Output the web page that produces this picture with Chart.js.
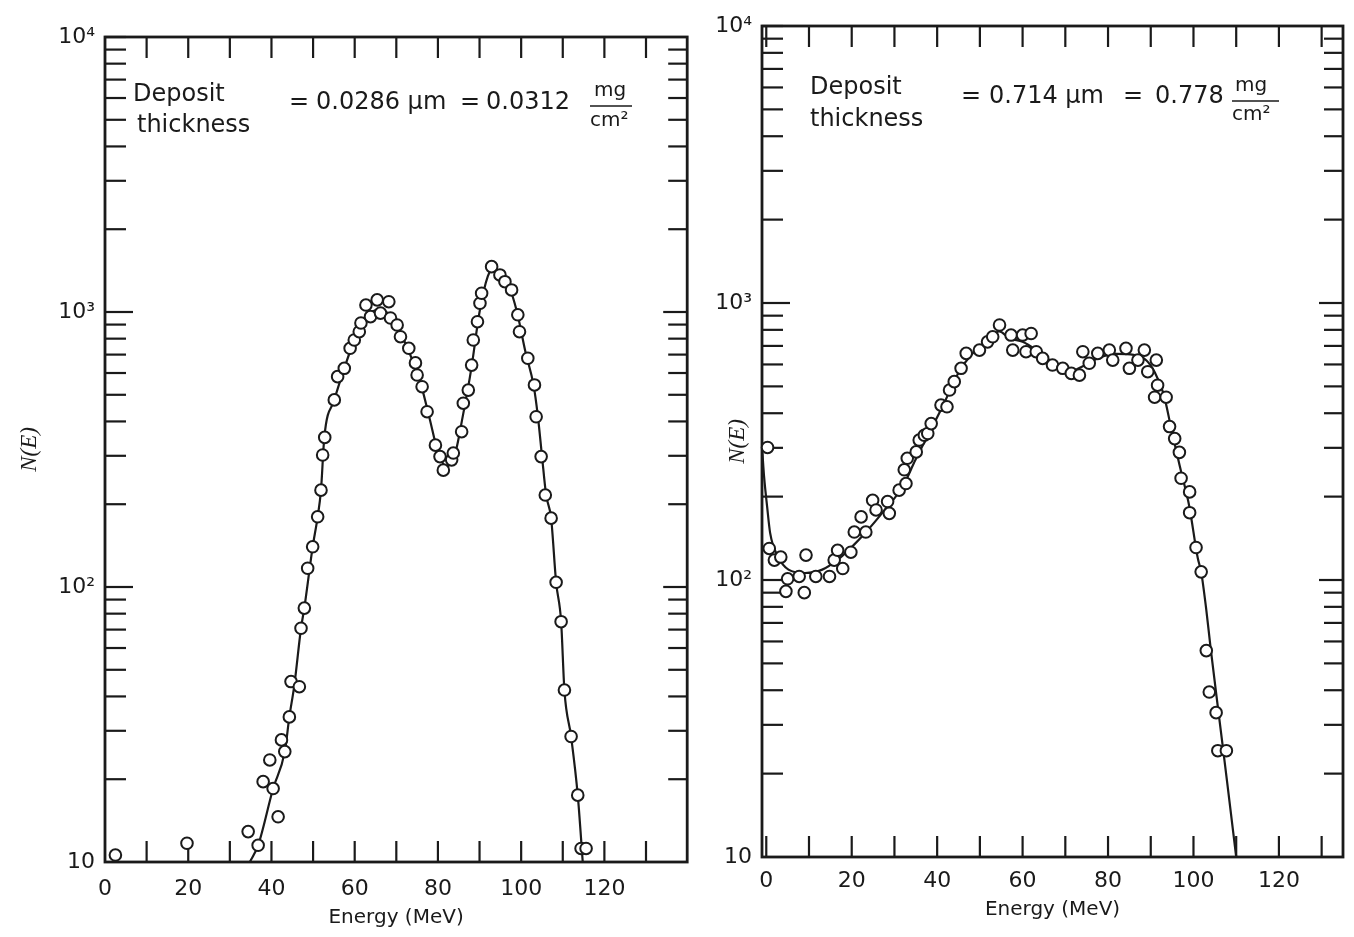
<!DOCTYPE html>
<html><head><meta charset="utf-8">
<script src="https://cdn.jsdelivr.net/npm/chart.js@4/dist/chart.umd.min.js"></script>
<style>
html,body{margin:0;padding:0;background:#fff;width:1354px;height:937px;overflow:hidden;}
canvas{position:absolute;top:0;}
#c1{left:0;}
#c2{left:695px;}
</style></head><body>
<canvas id="c1" width="695" height="937"></canvas>
<canvas id="c2" width="659" height="937"></canvas>
<script>
// ---------- data ----------
const leftE = [2.5,19.7,34.4,36.8,38.0,39.6,40.4,41.6,42.4,43.2,44.3,44.7,46.7,47.1,47.9,48.7,49.9,51.1,51.9,52.3,52.8,55.1,55.9,57.5,58.9,59.9,61.1,61.5,62.7,63.8,65.4,66.2,68.2,68.6,70.2,71.0,73.0,74.6,75.0,76.2,77.4,79.4,80.5,81.3,83.3,83.7,85.7,86.1,87.3,88.1,88.5,89.5,90.1,90.5,92.9,94.9,96.1,97.7,99.2,99.6,101.6,103.2,103.6,104.8,105.8,107.2,108.4,109.6,110.4,112.0,113.6,114.4,115.6];
const leftN = [10.6,11.7,12.9,11.5,19.6,23.5,18.5,14.6,27.8,25.2,33.7,45.3,43.4,70.8,83.8,117,140,180,225,302,350,479,582,624,738,791,848,912,1060,962,1107,991,1090,951,897,813,738,653,590,535,434,328,298,266,290,307,367,466,520,641,791,922,1076,1170,1462,1364,1289,1203,977,848,679,543,416,298,216,178,104,74.8,42.2,28.6,17.5,11.2,11.2];
const leftFitE = [34.8,36.8,40.4,43.2,44.3,45.5,47.1,47.9,49.9,51.1,51.9,52.7,55.1,57.5,59.9,62,64,66,68,70,72,74,76,78,80,82,84,86,88,90,92,93.5,95,97,99,101,103,104,105,106,107.2,108.4,109.6,110.4,112,113.6,114.8];
const leftFitN = [10,11.5,18.5,25.2,33.7,44,70.8,84,140,180,225,350,479,624,791,930,1000,1020,990,900,780,660,540,410,310,275,300,420,620,1000,1350,1440,1380,1250,1000,720,540,420,300,216,178,104,75,42,28.6,17.5,10];

const rightE = [0.3,0.7,1.9,3.4,4.6,5.0,7.7,8.9,9.3,11.6,14.8,15.9,16.7,17.9,19.8,20.6,22.2,23.3,24.9,25.7,28.4,28.8,31.1,32.3,32.7,33.0,35.1,35.8,37.0,37.8,38.6,40.9,42.3,42.9,44.0,45.6,46.8,49.9,51.8,53.0,54.6,57.3,57.7,60.0,60.8,62.0,63.2,64.7,67.0,69.4,71.4,73.3,74.1,75.6,77.6,80.3,81.1,84.2,85.0,87.0,88.5,89.3,90.9,91.3,91.6,93.6,94.4,95.6,96.7,97.1,99.1,99.1,100.6,101.8,103.0,103.7,105.3,105.7,107.7];
const rightN = [301,130,118,121,91,101,103,90,123,103,103,118,128,110,126,149,169,149,194,179,192,174,211,250,223,275,290,320,333,338,367,428,422,485,520,581,658,676,724,755,833,766,676,766,667,776,667,631,597,581,557,549,667,606,658,676,622,686,581,622,676,565,457,622,505,457,358,324,289,233,208,175,131,107,55.6,39.4,33.2,24.2,24.2];
const rightFitE = [-0.9,-0.5,0.2,0.9,2.8,5.2,9.1,13.1,16.6,20.1,23.2,27.2,31.9,34.9,41.2,45,48,52,54.5,57,60,63,67,71,74,78,82,86,89,91,93,95,97,99,101,101.8,103,104,106,108,110];
const rightFitN = [287,235,184,148,121,109,106,109,118,132,148,175,217,271,421,560,650,730,790,745,725,680,610,565,590,635,655,650,620,560,470,340,250,185,120,107,78,57,32,18,10];

// ---------- tick labels ----------
const yDecades = [10, 100, 1000, 10000];
const yDecadeLabels = ['10', '10²', '10³', '10⁴'];
const xLabelValues = [0, 20, 40, 60, 80, 100, 120];

const INK = '#1a1a1a';
Chart.defaults.font.family = "'DejaVu Sans', sans-serif";

function logTickList(min, max) {
  const t = [];
  for (let d = min; d < max; d *= 10) for (let k = 1; k < 10; k++) t.push({value: d * k});
  t.push({value: max});
  return t;
}

const framePlugin = {
  id: 'frame',
  beforeDatasetsDraw(chart, args, o) {
    const {ctx, chartArea: a, scales: {x, y}} = chart;
    ctx.save();
    ctx.strokeStyle = INK;
    ctx.lineCap = 'butt';
    const seg = (x1, y1, x2, y2) => { ctx.beginPath(); ctx.moveTo(x1, y1); ctx.lineTo(x2, y2); ctx.stroke(); };
    ctx.lineWidth = 2.2;
    y.ticks.forEach(t => {
      const py = y.getPixelForValue(t.value);
      const lg = Math.log10(t.value);
      const major = Math.abs(lg - Math.round(lg)) < 1e-6;
      if (t.value > 10 && t.value < 10000) {
        seg(a.left, py, a.left + (major ? o.yMajL : o.yMinL), py);
        seg(a.right - (major ? o.yMajR : o.yMinR), py, a.right, py);
      } else if (t.value === 10000) {
        seg(a.left, py, a.left + o.yMinL, py);
      }
    });
    x.ticks.forEach(t => {
      if (t.value <= x.min + 0.5 || t.value >= x.max - 0.5) return;
      const px = x.getPixelForValue(t.value);
      seg(px, a.bottom, px, a.bottom - o.xL);
      seg(px, a.top, px, a.top + o.xL);
    });
    ctx.lineWidth = 2.8;
    ctx.strokeRect(a.left, a.top, a.right - a.left, a.bottom - a.top);
    ctx.restore();
  },
  afterDraw(chart, args, o) {
    const ctx = chart.ctx;
    ctx.save();
    ctx.fillStyle = INK;
    ctx.strokeStyle = INK;
    ctx.textBaseline = 'middle';
    ctx.textAlign = 'left';
    (o.notes || []).forEach(n => {
      ctx.font = n.size + "px 'DejaVu Sans'";
      ctx.fillText(n.t, n.x, n.y);
    });
    if (o.bar) {
      ctx.lineWidth = 1.5;
      ctx.beginPath(); ctx.moveTo(o.bar[0], o.bar[2]); ctx.lineTo(o.bar[1], o.bar[2]); ctx.stroke();
    }
    ctx.restore();
  }
};

function build(id, p) {
  return new Chart(document.getElementById(id), {
    type: 'line',
    data: {
      datasets: [
        { data: p.E.map((e, i) => ({x: e, y: p.N[i]})), showLine: false,
          pointRadius: 5.8, pointBorderWidth: 2, pointBorderColor: INK,
          pointBackgroundColor: '#ffffff', order: 0, clip: false },
        { data: p.fE.map((e, i) => ({x: e, y: p.fN[i]})), borderColor: INK,
          borderWidth: 2.2, pointRadius: 0, cubicInterpolationMode: 'monotone',
          fill: false, order: 1 }
      ]
    },
    options: {
      responsive: false, animation: false, devicePixelRatio: 1,
      layout: {padding: {top: p.top, right: p.right, left: 0, bottom: 0}},
      plugins: {
        legend: {display: false}, tooltip: {enabled: false},
        frame: {yMajL: 28, yMinL: 21, yMajR: 24, yMinR: 19, xL: 21, notes: p.notes, bar: p.bar}
      },
      scales: {
        x: {
          type: 'linear', min: p.xmin, max: p.xmax,
          afterBuildTicks: s => { const t = []; for (let v = 0; v < p.xmax; v += 10) t.push({value: v}); s.ticks = t; },
          afterFit: s => { s.height = p.xH; },
          grid: {display: false, drawTicks: false}, border: {display: false},
          ticks: {padding: p.xPad, font: {size: 22}, color: INK, maxRotation: 0, autoSkip: false,
                  callback: v => xLabelValues.includes(v) ? String(v) : ''},
          title: {display: true, text: 'Energy (MeV)', font: {size: 20}, color: INK,
                  padding: {top: 0, bottom: p.xTitlePad}}
        },
        y: {
          type: 'logarithmic', min: 10, max: 10000,
          afterBuildTicks: s => { s.ticks = logTickList(10, 10000); },
          afterFit: s => { s.width = p.yW; },
          grid: {display: false, drawTicks: false}, border: {display: false},
          ticks: {padding: 10, font: {size: 22}, color: INK, autoSkip: false,
                  callback: v => { const i = yDecades.indexOf(v); return i >= 0 ? yDecadeLabels[i] : ''; }},
          title: {display: true, text: 'N(E)', font: {family: "'Liberation Serif', serif", style: 'italic', size: 23},
                  color: INK, padding: {top: p.yTitlePad, bottom: 0}}
        }
      }
    },
    plugins: [framePlugin]
  });
}

build('c1', {
  E: leftE, N: leftN, fE: leftFitE, fN: leftFitN,
  xmin: 0, xmax: 139.9, top: 37, right: 2, yW: 105, xH: 75, xPad: 14, xTitlePad: 7, yTitlePad: 16,
  notes: [
    {t: 'Deposit', x: 133, y: 95, size: 24},
    {t: 'thickness', x: 137, y: 126, size: 24},
    {t: '=', x: 289, y: 103, size: 24},
    {t: '0.0286 µm', x: 316, y: 103, size: 24},
    {t: '=', x: 460, y: 103, size: 24},
    {t: '0.0312', x: 486, y: 103, size: 24},
    {t: 'mg', x: 594, y: 91, size: 20},
    {t: 'cm²', x: 590, y: 121, size: 20}
  ],
  bar: [590, 632, 106]
});

build('c2', {
  E: rightE, N: rightN, fE: rightFitE, fN: rightFitN,
  xmin: -1, xmax: 135, top: 26, right: 11, yW: 67, xH: 80, xPad: 11, xTitlePad: 15, yTitlePad: 29,
  notes: [
    {t: 'Deposit', x: 115, y: 88, size: 24},
    {t: 'thickness', x: 115, y: 120, size: 24},
    {t: '=', x: 266, y: 97, size: 24},
    {t: '0.714 µm', x: 294, y: 97, size: 24},
    {t: '=', x: 428, y: 97, size: 24},
    {t: '0.778', x: 460, y: 97, size: 24},
    {t: 'mg', x: 540, y: 86, size: 20},
    {t: 'cm²', x: 537, y: 115, size: 20}
  ],
  bar: [537, 584, 101]
});
</script>
</body></html>
